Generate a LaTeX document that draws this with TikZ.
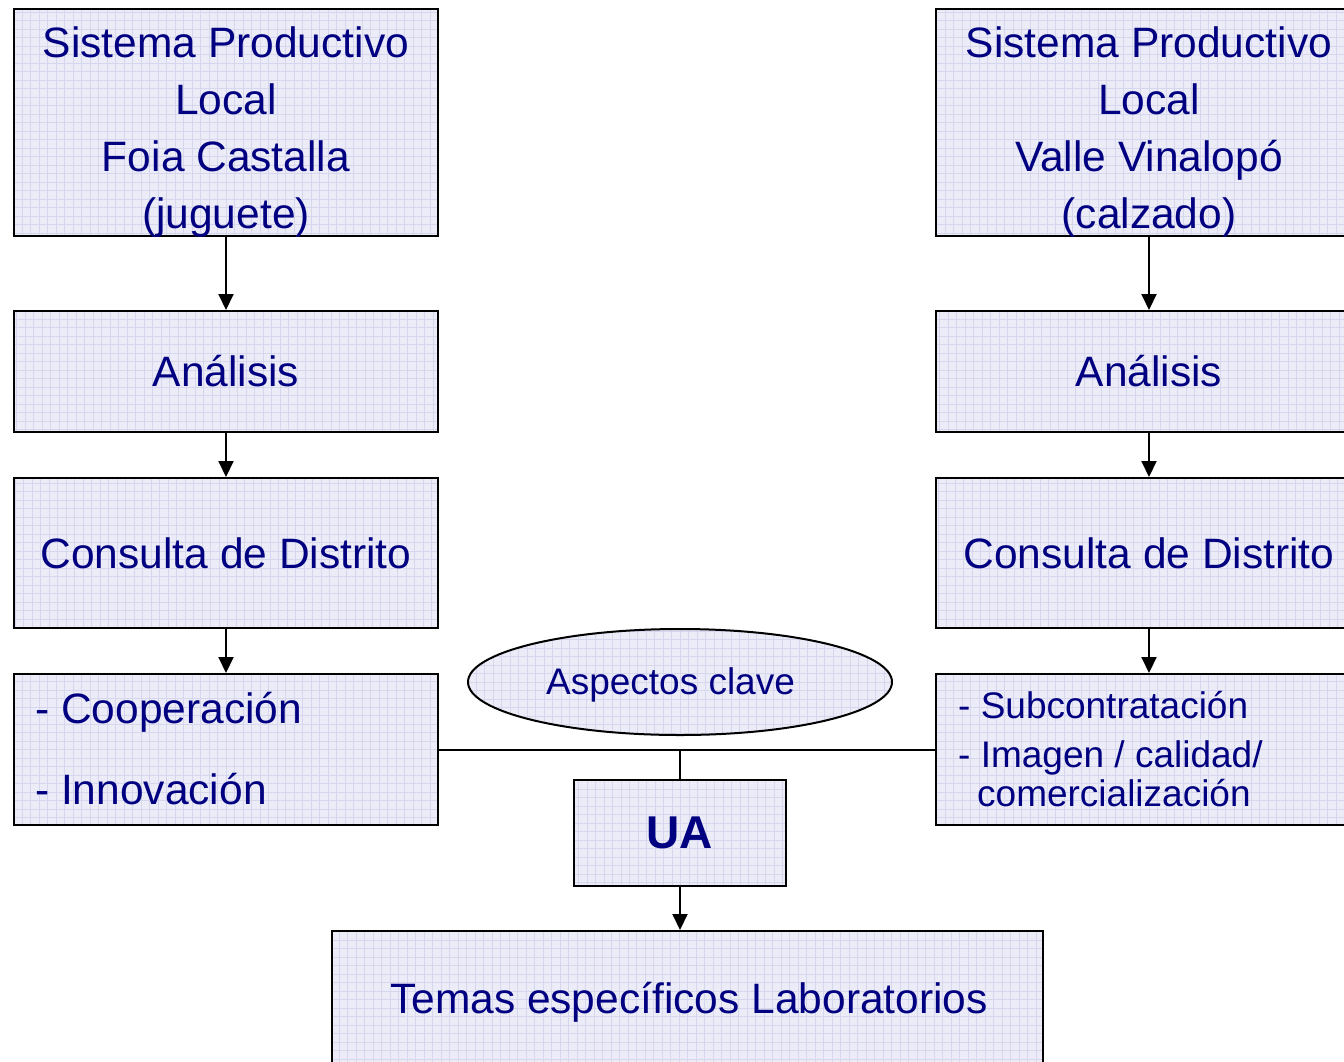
\documentclass[tikz,border=0pt]{standalone}
\usepackage{fontspec}
\setmainfont{Liberation Sans}
\usetikzlibrary{arrows.meta,shapes.geometric}
\definecolor{navy}{RGB}{0,0,128}
\definecolor{boxfill}{RGB}{236,236,248}
\definecolor{gridc}{RGB}{214,214,236}
\tikzset{
  gridfill/.style={fill=boxfill, path picture={\draw[gridc,line width=0.6pt] (path picture bounding box.south west) grid[step=8.5pt] (path picture bounding box.north east);}},
  box/.style={draw=black, line width=2pt, gridfill, inner sep=0pt, text=navy, align=center, font=\fontsize{42.5}{57}\selectfont},
  btext/.style={text=navy, inner sep=0pt, align=center, font=\fontsize{42.5}{57}\selectfont},
  bigtxt/.style={text=navy, inner sep=0pt, anchor=base west, font=\fontsize{42.5}{51}\selectfont},
  smalltxt/.style={text=navy, inner sep=0pt, anchor=base west, font=\fontsize{37}{44}\selectfont},
  arr/.style={line width=2pt, -{Triangle[width=15pt,length=16pt]}},
  conn/.style={line width=2pt},
}
\begin{document}
\begin{tikzpicture}[x=1pt,y=-1pt]
\useasboundingbox (0,0) rectangle (1344,1061);
% left column
\node[box, minimum width=424pt, minimum height=227pt] (L1) at (226,122.5) {};
\node[btext] (L1t) at (226,132) {Sistema Productivo\\Local\\Foia Castalla\\(juguete)};
\node[box, minimum width=424pt, minimum height=121pt] (L2) at (226,371.5) {Análisis};
\node[box, minimum width=424pt, minimum height=150pt] (L3) at (226,553) {Consulta de Distrito};
\node[box, minimum width=424pt, minimum height=151pt] (L4) at (226,749.5) {};
\node[bigtxt] (L4a) at (35,723) {- Cooperación};
\node[bigtxt] (L4b) at (35,804) {- Innovación};
% right column
\node[box, minimum width=426pt, minimum height=227pt] (R1) at (1149,122.5) {};
\node[btext] (R1t) at (1149,132) {Sistema Productivo\\Local\\Valle Vinalopó\\(calzado)};
\node[box, minimum width=426pt, minimum height=121pt] (R2) at (1149,371.5) {Análisis};
\node[box, minimum width=426pt, minimum height=150pt] (R3) at (1149,553) {Consulta de Distrito};
\node[box, minimum width=426pt, minimum height=151pt] (R4) at (1149,749.5) {};
\node[smalltxt] (R4a) at (958,718) {- Subcontratación};
\node[smalltxt] (R4b) at (958,767) {- Imagen / calidad/};
\node[smalltxt] (R4c) at (977,806) {comercialización};
% centre
\node[box, ellipse, minimum width=424pt, minimum height=106pt] (AC) at (680,682) {};
\node[text=navy, inner sep=0pt, font=\fontsize{37}{44}\selectfont] (ACt) at (670.5,685) {Aspectos clave};
\node[box, minimum width=212pt, minimum height=106pt, font=\fontsize{46}{55}\selectfont\bfseries] (UA) at (680,833) {UA};
\node[box, minimum width=711pt, minimum height=137pt] (TE) at (687.5,999.5) {};
\node[btext] (TEt) at (689,1002) {Temas específicos Laboratorios};
% connectors
\draw[arr] (L1.south) -- (L2.north);
\draw[arr] (L2.south) -- (L3.north);
\draw[arr] (L3.south) -- (L4.north);
\draw[arr] (R1.south) -- (R2.north);
\draw[arr] (R2.south) -- (R3.north);
\draw[arr] (R3.south) -- (R4.north);
\draw[conn] (L4.east) -- (R4.west);
\draw[conn] (UA.north) -- (UA.north |- L4.east);
\draw[arr] (UA.south) -- (UA.south |- TE.north);
\end{tikzpicture}
\end{document}
